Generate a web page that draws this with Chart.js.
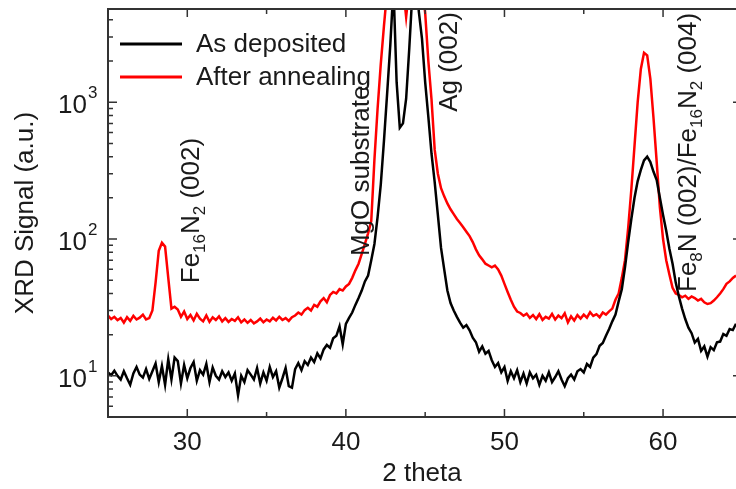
<!DOCTYPE html>
<html><head><meta charset="utf-8">
<script src="https://cdn.jsdelivr.net/npm/chart.js@4.4.1/dist/chart.umd.min.js"></script>
<style>html,body{margin:0;padding:0;background:#fff;overflow:hidden}#wrap{width:736px;height:489px}</style>
</head><body><div id="wrap"><canvas id="c" width="736" height="489"></canvas></div>
<script>
// ---- data ----
const thetaStart = 25.0;   // first 2-theta sample
const thetaStep = 0.2;     // sampling step of the scan
const seriesLabels = ['As deposited', 'After annealing'];
const seriesColors = ['#000000', '#ff0000'];
const asDeposited = [
10.6,10.1,10.9,10.0,9.4,10.8,9.6,8.6,10.4,11.6,
10.2,9.7,11.2,9.5,10.8,12.3,9.0,11.8,8.6,13.2,
9.4,13.6,12.8,8.8,12.0,9.6,11.4,12.6,9.2,11.0,
10.2,12.2,9.0,11.5,10.0,9.4,10.8,9.8,10.6,9.2,
10.4,7.2,10.0,9.0,11.0,10.2,9.4,11.4,8.8,10.6,
9.2,11.6,9.8,10.8,8.2,9.6,11.4,8.4,8.2,11.2,
12.4,11.0,12.8,12.0,13.6,12.6,14.6,13.4,15.6,16.8,
16.0,18.8,19.6,23.0,17.0,24.0,26.5,29.0,33.0,37.0,
42,49,54,70,92,145,250,520,1150,2600,
7000,1400,650,700,1060,2500,6500,9000,4600,2900,
1400,780,420,260,150,86,60,42,34,30,
27,24.5,22.5,23.5,21.5,19,17.6,15,16.4,14.5,
15.2,13,11.6,12.4,10.6,11.6,9.2,10.8,9.6,11,
9,10.4,8.8,10.6,9.6,10.2,8.6,10,9.2,10.6,
9,9.8,10.8,9.4,8.4,9.6,10.2,9.4,10.8,11.2,
10.6,12.2,11.6,13.6,14.4,16.6,17.4,19.6,22,25,
28,35,43,62,95,140,200,265,320,375,
400,365,310,270,200,150,115,85,66,48,
38,31,26,22.5,20.5,17.5,18.6,15.2,16.4,13.8,
16.2,15.4,17.6,17.8,20.2,19.6,22.0,21.6,24
];
const afterAnnealing = [
27.5,26.0,27.0,25.5,26.5,24.5,26.8,25.2,27.4,25.8,
26.6,28.0,25.8,26.4,30,48,82,94,88,52,
31,32,30.5,27,29.5,26,27.8,25.4,28.4,26.2,
25,27.6,24.8,26.8,25.6,27.2,25,26.4,24.8,26,
25.2,26.8,24.6,25.8,24.4,25.6,24.2,25,26.2,24.6,
25.8,25,26.6,25.4,27,25.6,26.4,25.2,26.8,27.6,
29,28,30.2,31.4,30,33,32,35,37,34.5,
39,41,40,43,42,45,47,52,59,66,
78,92,110,135,380,900,1900,3600,6500,9000,
10000,10000,9000,7000,4200,7000,12000,12000,10000,7500,
4500,2000,1050,450,300,235,205,182,165,152,
140,131,122,113,105,95,84,76,71,66,
64,62,64,60,54,47,41,36,32,29.5,
28.8,27.5,28.5,26.5,27.8,26,28.2,25.6,27,26.2,
28.4,25.8,27.6,26.4,28.6,24.6,27.2,25.4,27.8,26.2,
28,26.6,29.2,27.4,28.2,26.8,29,28,29.6,31,
36,40,52,70,120,230,480,1000,1750,2300,
2200,1480,760,365,170,100,70,55,44,40,
39,37.5,38.5,36.5,38,37,35.5,36.5,34.5,33.5,
34,35.5,37.5,40,43,47,49,52,54
];
const xTickValues = [30, 40, 50, 60];
const yTickValues = [10, 100, 1000];
const yTickBase = '10';
const yTickExponents = ['1', '2', '3'];
// peak labels: text segments [text, isSubscript], anchored in data coordinates (baseline x, start y)
const peakLabelSegments = [
  [['Fe',0],['16',1],['N',0],['2',1],[' (002)',0]],
  [['MgO substrate',0]],
  [['Ag (002)',0]],
  [['Fe',0],['8',1],['N (002)/Fe',0],['16',1],['N',0],['2',1],[' (004)',0]]
];
const peakLabelX = [30.76, 41.45, 47.0, 62.1];
const peakLabelY = [47.5, 75, 850, 41];

const twoTheta = asDeposited.map((_, i) => +(thetaStart + i * thetaStep).toFixed(2));
const FONT = '"Liberation Sans", Arial, Helvetica, sans-serif';
const TXT = '#1a1a1a';

const decor = {
  id: 'decor',
  afterDraw(chart) {
    const {ctx, chartArea: a, scales: {x, y}} = chart;
    ctx.save();
    // y tick exponents (superscripts next to the library's "10" labels)
    ctx.fillStyle = TXT;
    ctx.font = '17px ' + FONT;
    ctx.textAlign = 'left';
    ctx.textBaseline = 'alphabetic';
    yTickValues.forEach((v, i) => {
      const py = y.getPixelForValue(v);
      ctx.fillText(yTickExponents[i], a.left - 20, py - 4);
    });
    // peak labels
    peakLabelSegments.forEach((segs, k) => {
      const px = x.getPixelForValue(peakLabelX[k]);
      const py = y.getPixelForValue(peakLabelY[k]);
      ctx.save();
      ctx.translate(px, py);
      ctx.rotate(-Math.PI / 2);
      let cx = 0;
      segs.forEach(([t, sub]) => {
        ctx.font = (sub ? '17px ' : '26px ') + FONT;
        ctx.fillText(t, cx, sub ? 6 : 0);
        cx += ctx.measureText(t).width;
      });
      ctx.restore();
    });
    // frame
    ctx.strokeStyle = '#333';
    ctx.lineWidth = 2;
    ctx.beginPath();
    ctx.moveTo(a.right + 2, a.bottom); ctx.lineTo(a.left, a.bottom);
    ctx.lineTo(a.left, a.top); ctx.lineTo(a.right + 2, a.top);
    ctx.stroke();
    ctx.lineWidth = 1.5;
    ctx.beginPath();
    for (let v = 25; v <= 65; v += 5) {
      const px = x.getPixelForValue(v);
      if (px < a.left - 0.5 || px > a.right) continue;
      const len = v % 10 === 0 ? 8 : 5;
      ctx.moveTo(px, a.bottom); ctx.lineTo(px, a.bottom - len);
      ctx.moveTo(px, a.top); ctx.lineTo(px, a.top + len);
    }
    for (let d = 1; d <= 1000; d *= 10) {
      for (let m = 1; m <= 9; m++) {
        const v = m * d;
        if (v < y.min || v > y.max) continue;
        const py = y.getPixelForValue(v);
        const len = m === 1 ? 9 : 5;
        ctx.moveTo(a.left, py); ctx.lineTo(a.left + len, py);
        if (m === 1) { ctx.moveTo(a.right, py); ctx.lineTo(a.right - 3, py); }
      }
    }
    ctx.stroke();
    // legend
    const rows = [44, 77];
    chart.data.datasets.forEach((ds, i) => {
      ctx.strokeStyle = ds.borderColor;
      ctx.lineWidth = 3;
      ctx.beginPath();
      ctx.moveTo(120, rows[i]); ctx.lineTo(182, rows[i]);
      ctx.stroke();
      ctx.fillStyle = TXT;
      ctx.font = '26px ' + FONT;
      ctx.textBaseline = 'middle';
      ctx.fillText(ds.label, 196, rows[i] + 1);
    });
    ctx.restore();
  }
};

new Chart(document.getElementById('c'), {
  type: 'line',
  data: {
    datasets: [
      {label: seriesLabels[0], data: twoTheta.map((t, i) => ({x: t, y: asDeposited[i]})),
       borderColor: seriesColors[0], borderWidth: 2.5, pointRadius: 0, tension: 0, fill: false},
      {label: seriesLabels[1], data: twoTheta.map((t, i) => ({x: t, y: afterAnnealing[i]})),
       borderColor: seriesColors[1], borderWidth: 2.5, pointRadius: 0, tension: 0, fill: false}
    ]
  },
  options: {
    responsive: false, animation: false, devicePixelRatio: 1,
    layout: {padding: {left: 0, right: 0, top: 9, bottom: 0}},
    plugins: {legend: {display: false}, tooltip: {enabled: false}},
    scales: {
      x: {
        type: 'linear', min: 25, max: 64.6,
        afterBuildTicks: s => { s.ticks = xTickValues.map(v => ({value: v})); },
        afterFit: s => { s.height = 72; s.paddingLeft = 0; s.paddingRight = 0; },
        grid: {display: false, drawTicks: false}, border: {display: false},
        ticks: {padding: 10, color: TXT, font: {size: 26, family: FONT}, maxRotation: 0, autoSkip: false,
                callback: v => String(v)},
        title: {display: true, text: '2 theta', color: TXT, font: {size: 26, family: FONT}, padding: {top: 0, bottom: 0}}
      },
      y: {
        type: 'logarithmic', min: 5, max: 4800,
        afterBuildTicks: s => { s.ticks = yTickValues.map(v => ({value: v})); },
        afterFit: s => { s.width = 108; s.paddingTop = 0; s.paddingBottom = 0; },
        grid: {display: false, drawTicks: false}, border: {display: false},
        ticks: {padding: 21, labelOffset: 4, color: TXT, font: {size: 26, family: FONT}, autoSkip: false,
                callback: v => (yTickValues.includes(v) ? yTickBase : '')},
        title: {display: true, text: 'XRD Signal (a.u.)', color: TXT, font: {size: 26, family: FONT}, padding: {top: 10, bottom: 0}}
      }
    }
  },
  plugins: [decor]
});
</script></body></html>
